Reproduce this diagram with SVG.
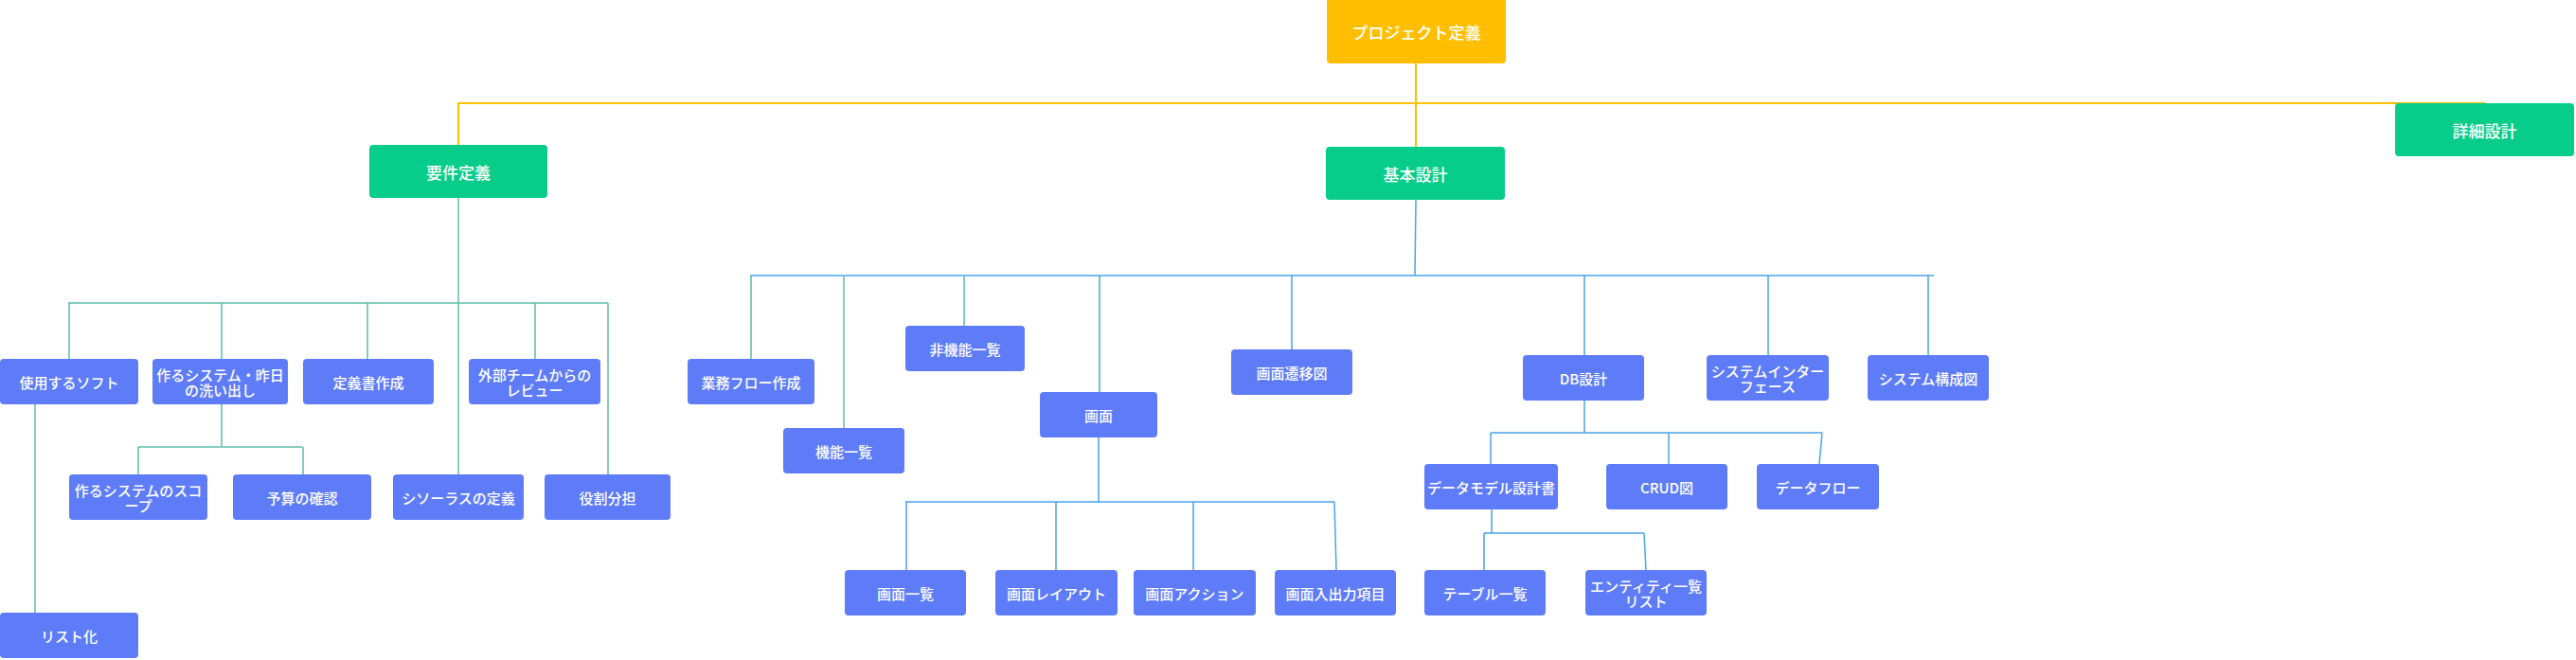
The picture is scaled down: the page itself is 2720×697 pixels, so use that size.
<svg xmlns="http://www.w3.org/2000/svg" width="2720" height="697" viewBox="0 0 2720 697">
<style>
.bg{fill:#ffffff}
.root rect{fill:#FFBF00}
.l1 rect{fill:#08CD8A}
.l2 rect{fill:#5F7CF8}
text{fill:#ffffff;font-family:"Noto Sans CJK JP","Noto Sans",sans-serif;text-anchor:middle;dominant-baseline:central;font-weight:500}
.root text,.l1 text{font-size:17px}
.l2 text{font-size:15px}
.cy{fill:none;stroke:#FFBF00;stroke-width:2}
.ct{fill:none;stroke:#5DBBAA;stroke-width:1.5}
.cb{fill:none;stroke:#4AA3EA;stroke-width:1.5}
</style>
<rect class="bg" x="0" y="0" width="2720" height="697"/>
<g id="connectors">
<path class="cy" d="M1495,67 V155"/>
<path class="cy" d="M484,153 V109 H2624"/>
<path class="ct" d="M484,209 V501"/>
<path class="ct" d="M72,320 H642"/>
<path class="ct" d="M73,320 V379 M234,320 V379 M388,320 V379 M565,320 V379 M642,320 V501"/>
<path class="ct" d="M234,427 V471 M146,472 H319 M146,472 V501 M320,472 V501"/>
<path class="ct" d="M37,427 V647"/>
<path class="cb" d="M1495,211 L1494,291"/>
<path class="cb" d="M792,291 H2042"/>
<path class="ct" d="M793,291 V379 M891,291 V452 M1018,291 V344"/>
<path class="cb" d="M1161,291 V414 M1364,291 V369 M1673,291 V375 M1867,291 V375 M2036,291 V375"/>
<path class="cb" d="M1160,462 V530 M956,530 H1409 M957,530 V602 M1115,530 V602 M1260,530 V602 M1409,530 L1411,602"/>
<path class="cb" d="M1673,423 V457 M1574,457 H1924 M1574,457 V490 M1762,457 V490 M1924,457 L1921,490"/>
<path class="cb" d="M1575,538 V563 M1567,563 H1736 M1567,563 V602 M1736,563 L1738,602"/>
</g>
<g id="n-project" class="root"><rect x="1401" y="-4" width="189" height="71" rx="4"/><text x="1495.5" y="33">プロジェクト定義</text></g>
<g id="n-youken" class="l1"><rect x="390" y="153" width="188" height="56" rx="4"/><text x="484" y="181">要件定義</text></g>
<g id="n-kihon" class="l1"><rect x="1400" y="155" width="189" height="56" rx="4"/><text x="1494.5" y="183">基本設計</text></g>
<g id="n-shousai" class="l1"><rect x="2529" y="109" width="189" height="56" rx="4"/><text x="2623.5" y="137">詳細設計</text></g>

<g id="n-soft" class="l2"><rect x="0" y="379" width="146" height="48" rx="4"/><text x="73" y="403">使用するソフト</text></g>
<g id="n-arai" class="l2"><rect x="161" y="379" width="143" height="48" rx="4"/><text x="232.5" y="395">作るシステム・昨日</text><text x="232.5" y="411">の洗い出し</text></g>
<g id="n-teigisho" class="l2"><rect x="320" y="379" width="138" height="48" rx="4"/><text x="389" y="403">定義書作成</text></g>
<g id="n-review" class="l2"><rect x="495" y="379" width="139" height="48" rx="4"/><text x="564.5" y="395">外部チームからの</text><text x="564.5" y="411">レビュー</text></g>
<g id="n-scope" class="l2"><rect x="73" y="501" width="146" height="48" rx="4"/><text x="146" y="517">作るシステムのスコ</text><text x="146" y="533">ープ</text></g>
<g id="n-yosan" class="l2"><rect x="246" y="501" width="146" height="48" rx="4"/><text x="319" y="525">予算の確認</text></g>
<g id="n-thesaurus" class="l2"><rect x="415" y="501" width="138" height="48" rx="4"/><text x="484" y="525">シソーラスの定義</text></g>
<g id="n-yakuwari" class="l2"><rect x="575" y="501" width="133" height="48" rx="4"/><text x="641.5" y="525">役割分担</text></g>
<g id="n-list" class="l2"><rect x="0" y="647" width="146" height="48" rx="4"/><text x="73" y="671">リスト化</text></g>

<g id="n-gyomu" class="l2"><rect x="726" y="379" width="134" height="48" rx="4"/><text x="793" y="403">業務フロー作成</text></g>
<g id="n-kinou" class="l2"><rect x="827" y="452" width="128" height="48" rx="4"/><text x="891" y="476">機能一覧</text></g>
<g id="n-hikinou" class="l2"><rect x="956" y="344" width="126" height="48" rx="4"/><text x="1019" y="368">非機能一覧</text></g>
<g id="n-gamen" class="l2"><rect x="1098" y="414" width="124" height="48" rx="4"/><text x="1160" y="438">画面</text></g>
<g id="n-seni" class="l2"><rect x="1300" y="369" width="128" height="48" rx="4"/><text x="1364" y="393">画面遷移図</text></g>
<g id="n-gamen-ichiran" class="l2"><rect x="892" y="602" width="128" height="48" rx="4"/><text x="956" y="626">画面一覧</text></g>
<g id="n-layout" class="l2"><rect x="1051" y="602" width="129" height="48" rx="4"/><text x="1115.5" y="626">画面レイアウト</text></g>
<g id="n-action" class="l2"><rect x="1197" y="602" width="129" height="48" rx="4"/><text x="1261.5" y="626">画面アクション</text></g>
<g id="n-io" class="l2"><rect x="1346" y="602" width="128" height="48" rx="4"/><text x="1410" y="626">画面入出力項目</text></g>

<g id="n-db" class="l2"><rect x="1608" y="375" width="128" height="48" rx="4"/><text x="1672" y="399">DB設計</text></g>
<g id="n-if" class="l2"><rect x="1802" y="375" width="129" height="48" rx="4"/><text x="1866.5" y="391">システムインター</text><text x="1866.5" y="407">フェース</text></g>
<g id="n-kousei" class="l2"><rect x="1972" y="375" width="128" height="48" rx="4"/><text x="2036" y="399">システム構成図</text></g>
<g id="n-model" class="l2"><rect x="1504" y="490" width="141" height="48" rx="4"/><text x="1574.5" y="514">データモデル設計書</text></g>
<g id="n-crud" class="l2"><rect x="1696" y="490" width="128" height="48" rx="4"/><text x="1760" y="514">CRUD図</text></g>
<g id="n-dataflow" class="l2"><rect x="1855" y="490" width="129" height="48" rx="4"/><text x="1919.5" y="514">データフロー</text></g>
<g id="n-table" class="l2"><rect x="1504" y="602" width="128" height="48" rx="4"/><text x="1568" y="626">テーブル一覧</text></g>
<g id="n-entity" class="l2"><rect x="1674" y="602" width="128" height="48" rx="4"/><text x="1738" y="618">エンティティ一覧</text><text x="1738" y="634">リスト</text></g>
</svg>
